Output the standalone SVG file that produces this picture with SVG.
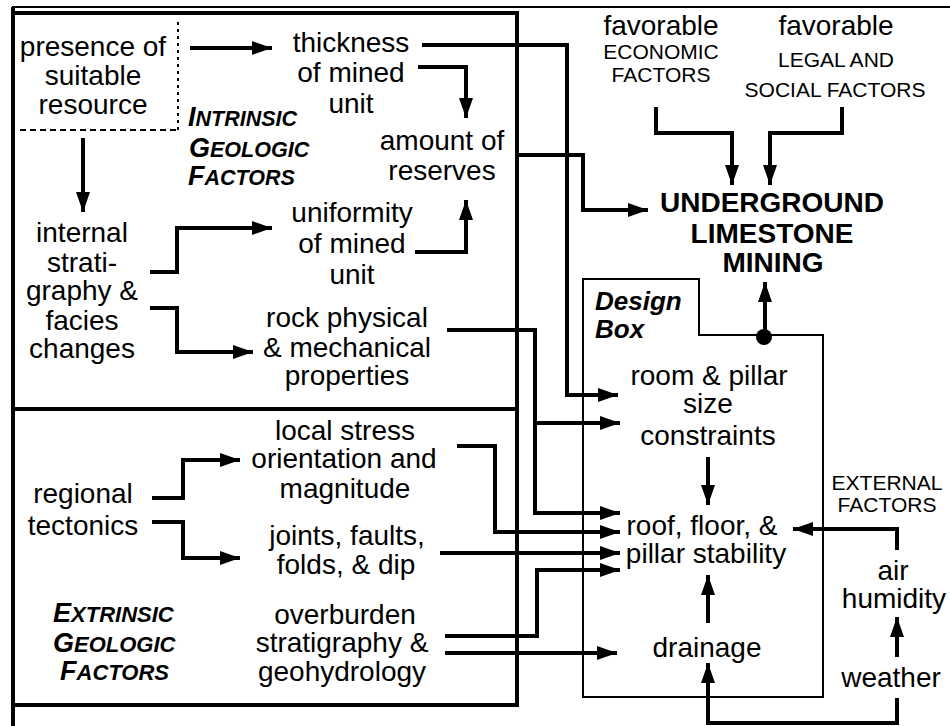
<svg xmlns="http://www.w3.org/2000/svg" width="950" height="726" viewBox="0 0 950 726">
<defs>
<marker id="ah" markerUnits="userSpaceOnUse" markerWidth="20" markerHeight="14" refX="20" refY="7" orient="auto">
<path d="M0,0 L20,7 L0,14 Z" fill="#000"/>
</marker>
<style>
text{font-family:"Liberation Sans",Arial,sans-serif;fill:#000;text-anchor:middle}
.t{font-size:28px}
.s{font-size:21px}
.b{font-size:28px;font-weight:bold}
.bi{font-weight:bold;font-style:italic;text-anchor:start}
.c{fill:none;stroke:#000;stroke-width:4;marker-end:url(#ah)}
.frame{fill:none;stroke:#000}
</style>
</defs>
<rect width="950" height="726" fill="#fff"/>
<g id="frame">
<path class="frame" stroke-width="2" d="M12,7 H950"/>
<path class="frame" stroke-width="4" d="M13,7 V726"/>
<rect class="frame" stroke-width="4" x="13" y="13" width="504" height="692"/>
<path class="frame" stroke-width="4" d="M13,409 H517"/>
<path class="frame" stroke-width="2" stroke-dasharray="3,4" d="M178,22 V130"/>
<path class="frame" stroke-width="2" stroke-dasharray="6,4" d="M20,130 H178"/>
</g>
<g id="design-box">
<path class="frame" stroke-width="2" d="M583,279 H699 V335 H823 V697 H583 Z"/>
<text class="bi" x="595" y="310" font-size="26">Design</text>
<text class="bi" x="595" y="338" font-size="26">Box</text>
</g>
<g id="connectors">
<path class="c" d="M190,48 H272"/>
<path class="c" d="M83,138 V212"/>
<path class="c" d="M422,45 H567 V395 H618"/>
<path class="c" d="M418,67 H466 V118"/>
<path class="c" d="M517,155 H583 V210 H648"/>
<path class="c" d="M415,252 H466 V200"/>
<path class="c" d="M150,272 H177 V228 H272"/>
<path class="c" d="M150,308 H177 V352 H253"/>
<path class="c" d="M447,330 H535 V513 H620"/>
<path class="c" d="M535,423 H620"/>
<path class="c" d="M152,498 H183 V460 H240"/>
<path class="c" d="M152,522 H183 V558 H240"/>
<path class="c" d="M457,446 H495 V532 H620"/>
<path class="c" d="M440,553 H620"/>
<path class="c" d="M445,636 H537 V570 H620"/>
<path class="c" d="M445,653 H617"/>
<path class="c" d="M656,107 V133 H732 V185"/>
<path class="c" d="M842,107 V133 H770 V185"/>
<path class="c" d="M765,337 V282"/>
<circle cx="764" cy="337" r="8" fill="#000"/>
<path class="c" d="M708,457 V505"/>
<path class="c" d="M708,623 V575"/>
<path class="c" d="M897,657 V617"/>
<path class="c" d="M897,550 V529 H793"/>
<path class="c" d="M897,698 V723 H708 V663"/>
</g>
<g id="presence">
<text class="t" x="93" y="56">presence of</text>
<text class="t" x="93" y="85">suitable</text>
<text class="t" x="93" y="114">resource</text>
</g>
<g id="intrinsic-label">
<text class="bi" x="188" y="126"><tspan font-size="27">I</tspan><tspan font-size="21.5">NTRINSIC</tspan></text>
<text class="bi" x="189" y="157"><tspan font-size="27">G</tspan><tspan font-size="21.5">EOLOGIC</tspan></text>
<text class="bi" x="188" y="185"><tspan font-size="27">F</tspan><tspan font-size="21.5">ACTORS</tspan></text>
</g>
<g id="thickness">
<text class="t" x="351" y="52">thickness</text>
<text class="t" x="351" y="82">of mined</text>
<text class="t" x="351" y="113">unit</text>
</g>
<g id="reserves">
<text class="t" x="442" y="150">amount of</text>
<text class="t" x="442" y="180">reserves</text>
</g>
<g id="internal">
<text class="t" x="82" y="242">internal</text>
<text class="t" x="82" y="272">strati-</text>
<text class="t" x="82" y="300">graphy &amp;</text>
<text class="t" x="82" y="330">facies</text>
<text class="t" x="82" y="358">changes</text>
</g>
<g id="uniformity">
<text class="t" x="352" y="222">uniformity</text>
<text class="t" x="352" y="253">of mined</text>
<text class="t" x="352" y="284">unit</text>
</g>
<g id="rock">
<text class="t" x="347" y="327">rock physical</text>
<text class="t" x="347" y="357">&amp; mechanical</text>
<text class="t" x="347" y="385">properties</text>
</g>
<g id="regional">
<text class="t" x="83" y="503">regional</text>
<text class="t" x="83" y="535">tectonics</text>
</g>
<g id="local-stress">
<text class="t" x="345" y="440">local stress</text>
<text class="t" x="344" y="468">orientation and</text>
<text class="t" x="345" y="498">magnitude</text>
</g>
<g id="joints">
<text class="t" x="347" y="545">joints, faults,</text>
<text class="t" x="346" y="574">folds, &amp; dip</text>
</g>
<g id="overburden">
<text class="t" x="345" y="624">overburden</text>
<text class="t" x="342" y="652">stratigraphy &amp;</text>
<text class="t" x="342" y="681">geohydrology</text>
</g>
<g id="extrinsic-label">
<text class="bi" x="53" y="622"><tspan font-size="27">E</tspan><tspan font-size="22">XTRINSIC</tspan></text>
<text class="bi" x="53" y="652"><tspan font-size="27">G</tspan><tspan font-size="22">EOLOGIC</tspan></text>
<text class="bi" x="60" y="680"><tspan font-size="27">F</tspan><tspan font-size="22">ACTORS</tspan></text>
</g>
<g id="economic">
<text class="t" x="661" y="35">favorable</text>
<text class="s" x="661" y="59">ECONOMIC</text>
<text class="s" x="661" y="82">FACTORS</text>
</g>
<g id="legal">
<text class="t" x="836" y="35">favorable</text>
<text class="s" x="836" y="67">LEGAL AND</text>
<text class="s" x="835" y="97">SOCIAL FACTORS</text>
</g>
<g id="mining">
<text class="b" x="772" y="212">UNDERGROUND</text>
<text class="b" x="772" y="243">LIMESTONE</text>
<text class="b" x="773" y="272">MINING</text>
</g>
<g id="room-pillar">
<text class="t" x="709" y="385">room &amp; pillar</text>
<text class="t" x="708" y="413">size</text>
<text class="t" x="708" y="445">constraints</text>
</g>
<g id="stability">
<text class="t" x="702" y="535">roof, floor, &amp;</text>
<text class="t" x="706" y="563">pillar stability</text>
</g>
<g id="drainage">
<text class="t" x="707" y="657">drainage</text>
</g>
<g id="external">
<text class="s" x="887" y="490">EXTERNAL</text>
<text class="s" x="887" y="512">FACTORS</text>
</g>
<g id="humidity">
<text class="t" x="893" y="580">air</text>
<text class="t" x="894" y="608">humidity</text>
</g>
<g id="weather">
<text class="t" x="891" y="687">weather</text>
</g>
</svg>
